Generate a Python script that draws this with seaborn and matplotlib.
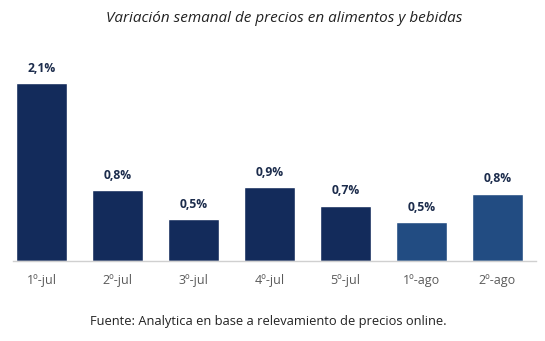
import matplotlib
matplotlib.use("Agg")
import matplotlib.pyplot as plt
import seaborn as sns
import pandas as pd

categories = ["1º-jul", "2º-jul", "3º-jul", "4º-jul", "5º-jul", "1º-ago", "2º-ago"]
values = [2.12, 0.84, 0.50, 0.88, 0.66, 0.46, 0.80]
labels = ["2,1%", "0,8%", "0,5%", "0,9%", "0,7%", "0,5%", "0,8%"]
bar_colors = ["#132b5b", "#132b5b", "#132b5b", "#132b5b", "#132b5b", "#224c82", "#224c82"]

title = "Variación semanal de precios en alimentos y bebidas"
source = "Fuente: Analytica en base a relevamiento de precios online."

sns.set_theme(style="white")
plt.rcParams["font.family"] = ["Open Sans", "DejaVu Sans"]

df = pd.DataFrame({"semana": categories, "valor": values})

fig = plt.figure(figsize=(5.45, 3.41), dpi=100)
ax = fig.add_axes([0.024, 0.2346, 0.959, 0.6188])
sns.barplot(data=df, x="semana", y="valor", hue="semana", palette=bar_colors,
            legend=False, width=0.67, saturation=1, ax=ax)

for i, (v, lab) in enumerate(zip(values, labels)):
    ax.text(i, v + 0.1, lab, ha="center", va="bottom", fontsize=8.7,
            fontweight="bold", color="#1c2c4c")

ax.set_xlim(-0.375, 6.507)
ax.set_ylim(0, 2.513)
ax.set_xlabel("")
ax.set_ylabel("")
ax.set_yticks([])
ax.tick_params(axis="x", length=0, pad=9, labelsize=9, labelcolor="#5a5a5a")
for s in ["top", "right", "left"]:
    ax.spines[s].set_visible(False)
ax.spines["bottom"].set_color("#d0d0d0")
ax.spines["bottom"].set_linewidth(1)

fig.text(284 / 545, 1 - 18 / 341, title, ha="center", va="center", fontsize=11,
         style="italic", color="#222222")
fig.text(268.5 / 545, 1 - 321 / 341, source, ha="center", va="center", fontsize=9.3,
         color="#222222")

fig.savefig("out.png", dpi=100, facecolor="white")
